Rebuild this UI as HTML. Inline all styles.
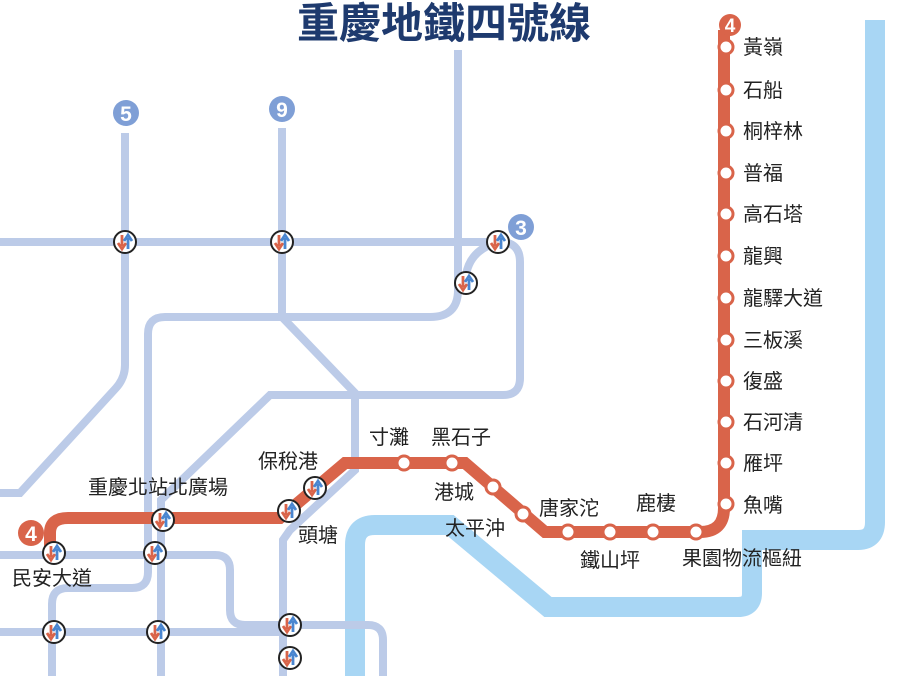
<!DOCTYPE html>
<html><head><meta charset="utf-8"><style>
html,body{margin:0;padding:0;background:#fff;}
svg{display:block;}
text{font-family:"Liberation Sans","Noto Sans CJK TC",sans-serif;fill:#222;font-size:20px;}
</style></head><body>
<svg width="907" height="676" viewBox="0 0 907 676" xmlns="http://www.w3.org/2000/svg">
<defs>
<g id="ic">
<circle r="11" fill="#fff" stroke="#222" stroke-width="2"/>
<path d="M-3,-7 L-3,4 M-7,1 L-3,7 L1,1" stroke="#d9644a" stroke-width="2.8" fill="none"/>
<path d="M3,7 L3,-4 M-1,-1 L3,-7 L7,-1" stroke="#4a86d0" stroke-width="2.8" fill="none"/>
</g>
</defs>
<path d="M355,676 L355,545 Q355,525 375,525 L450,525 L548,607 L738,607 Q752,607 752,593 L752,540 L858,540 Q875,540 875,522 L875,20" fill="none" stroke="#a8d6f4" stroke-width="20"/>
<g fill="none" stroke="#bccbe8" stroke-width="8">
<path d="M125,133 L125,365 Q125,378 116,388 L20,493 L0,493"/>
<path d="M0,242 L500,242 Q520,242 520,262 L520,378 Q520,395 503,395 L270,395 L161,500 L161,676"/>
<path d="M458,50 L458,290 Q458,317 430,317 L165,317 Q148,317 148,334 L148,572 Q148,588 132,588 L68,588 Q52,588 52,604 L52,676"/>
<path d="M498,242 Q470,250 466,275 L466,290"/>
<path d="M282,128 L282,317 L355,393 L355,470 L290,530 L283,540 L283,676"/>
<path d="M0,555 L215,555 Q230,555 230,570 L230,610 Q230,625 245,625 L368,625 Q383,625 383,640 L383,676"/>
<path d="M0,632 L290,632"/>
</g>
<path d="M50,548 L50,533 Q50,518 68,518 L280,518 L345,463 L465,463 L545,532 L700,532 Q724,532 724,508 L724,30" fill="none" stroke="#d9644a" stroke-width="12"/>
<g fill="#fff" stroke="#d9644a" stroke-width="3">
<circle cx="404" cy="463" r="7"/><circle cx="452" cy="463" r="7"/><circle cx="493" cy="487" r="7"/><circle cx="523" cy="514" r="7"/>
<circle cx="568" cy="532" r="7"/><circle cx="610" cy="532" r="7"/><circle cx="653" cy="532" r="7"/><circle cx="696" cy="532" r="7"/>
<circle cx="726" cy="47" r="7"/><circle cx="726" cy="90" r="7"/><circle cx="726" cy="131" r="7"/><circle cx="726" cy="173" r="7"/>
<circle cx="726" cy="214" r="7"/><circle cx="726" cy="256" r="7"/><circle cx="726" cy="298" r="7"/><circle cx="726" cy="340" r="7"/>
<circle cx="726" cy="381" r="7"/><circle cx="726" cy="422" r="7"/><circle cx="726" cy="463" r="7"/><circle cx="726" cy="504" r="7"/>
</g>
<use href="#ic" x="125" y="242"/><use href="#ic" x="282" y="242"/><use href="#ic" x="498" y="242"/><use href="#ic" x="466" y="283"/>
<use href="#ic" x="163" y="520"/><use href="#ic" x="54" y="553"/><use href="#ic" x="155" y="553"/><use href="#ic" x="315" y="488"/>
<use href="#ic" x="289" y="511"/><use href="#ic" x="54" y="632"/><use href="#ic" x="158" y="632"/><use href="#ic" x="290" y="625"/><use href="#ic" x="290" y="658"/>
<g text-anchor="middle">
<circle cx="730" cy="25" r="11" fill="#d9644a"/><text x="730" y="32" style="fill:#fff;font-size:19px;font-weight:bold">4</text>
<circle cx="31" cy="533" r="13" fill="#d9644a"/><text x="31" y="541" style="fill:#fff;font-size:21px;font-weight:bold">4</text>
<circle cx="126" cy="113" r="13" fill="#7f9fd6"/><text x="126" y="121" style="fill:#fff;font-size:21px;font-weight:bold">5</text>
<circle cx="282" cy="109" r="13" fill="#7f9fd6"/><text x="282" y="117" style="fill:#fff;font-size:21px;font-weight:bold">9</text>
<circle cx="521" cy="227" r="13" fill="#7f9fd6"/><text x="521" y="235" style="fill:#fff;font-size:21px;font-weight:bold">3</text>
</g>
<text x="444" y="38" text-anchor="middle" style="font-size:42px;font-weight:bold;fill:#1e3a6e">重慶地鐵四號線</text>
<g>
<text x="743" y="54">黃嶺</text><text x="743" y="97">石船</text><text x="743" y="138">桐梓林</text><text x="743" y="180">普福</text>
<text x="743" y="221">高石塔</text><text x="743" y="263">龍興</text><text x="743" y="305">龍驛大道</text><text x="743" y="347">三板溪</text>
<text x="743" y="388">復盛</text><text x="743" y="429">石河清</text><text x="743" y="470">雁坪</text><text x="743" y="512">魚嘴</text>
</g>
<text x="369" y="444">寸灘</text><text x="431" y="444">黑石子</text><text x="258" y="468">保稅港</text>
<text x="88" y="494">重慶北站北廣場</text><text x="434" y="499">港城</text><text x="298" y="542">頭塘</text>
<text x="445" y="535">太平沖</text><text x="539" y="515">唐家沱</text><text x="636" y="510">鹿棲</text>
<text x="580" y="567">鐵山坪</text><text x="682" y="565">果園物流樞紐</text><text x="12" y="585">民安大道</text>
</svg>
</body></html>
